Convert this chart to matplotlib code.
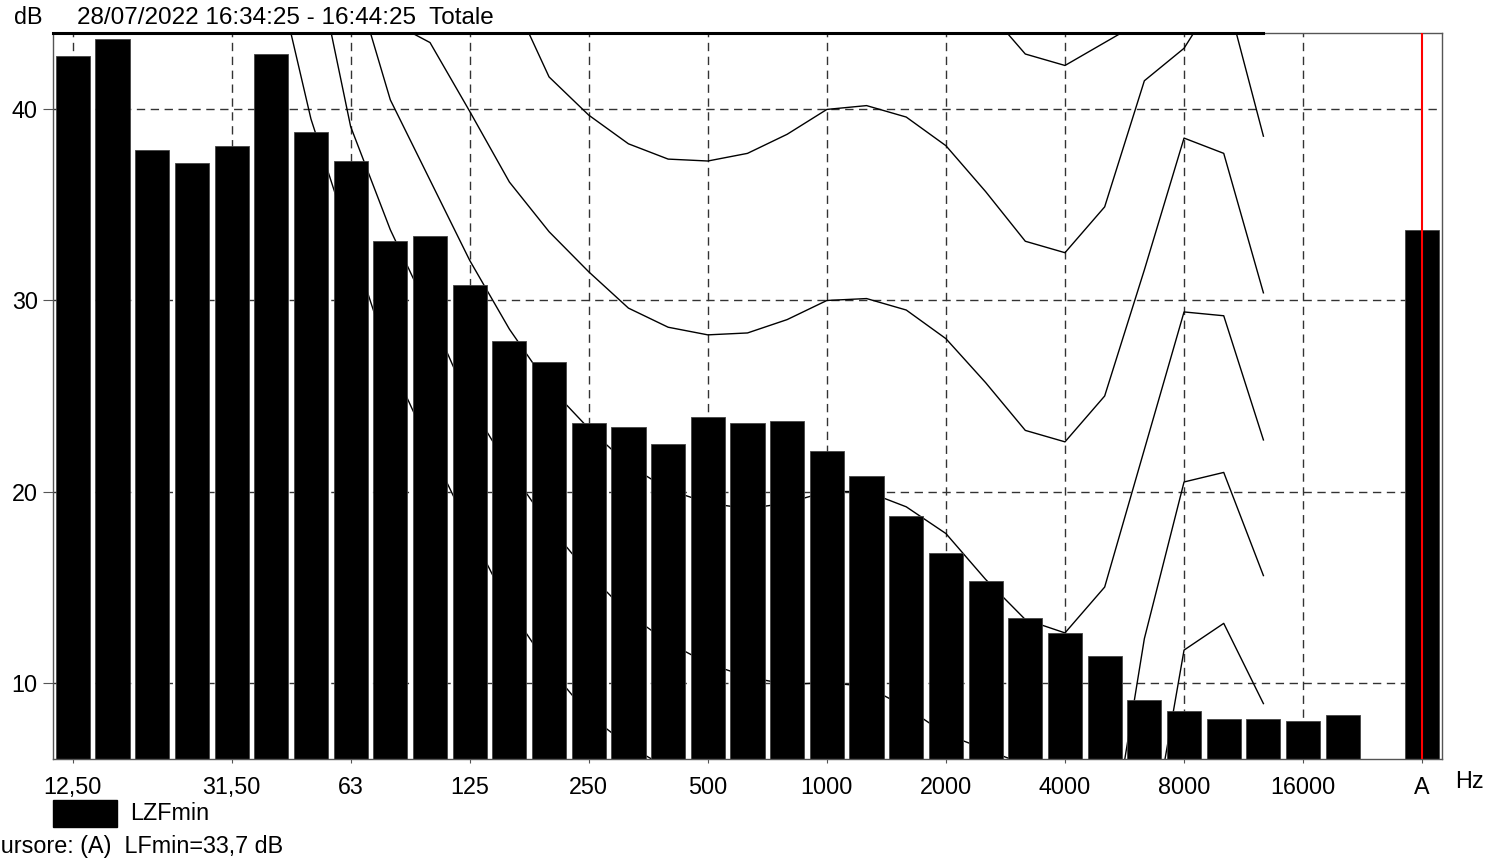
import numpy as np
import matplotlib
matplotlib.use("Agg")
import matplotlib.pyplot as plt
from matplotlib.patches import Rectangle

# ------------------------ DATA ------------------------

# 1/3 octave band centres (Hz) and their axis labels
FREQS = [12.5, 16, 20, 25, 31.5, 40, 50, 63, 80, 100, 125, 160, 200, 250, 315,
         400, 500, 630, 800, 1000, 1250, 1600, 2000, 2500, 3150, 4000, 5000,
         6300, 8000, 10000, 12500, 16000, 20000]

# LZFmin spectrum (dB)
LZF_MIN = [42.8, 43.7, 37.9, 37.2, 38.1, 42.9, 38.8, 37.3, 33.1, 33.4, 30.8,
           27.9, 26.8, 23.6, 23.4, 22.5, 23.9, 23.6, 23.7, 22.1, 20.8, 18.7,
           16.8, 15.3, 13.4, 12.6, 11.4, 9.1, 8.5, 8.1, 8.1, 8.0, 8.3]

# overall A-weighted value (cursor)
LF_MIN_A = 33.7

# equal-loudness curves, 20 Hz .. 12500 Hz
CURVE_FREQS = FREQS[2:31]
PHON_0 = [64, 59, 54, 48.4, 39.5, 33.1, 26.8, 22.3, 18.0, 13.9, 10.8, 8.3, 6.7,
          5.5, 4.4, 3.3, 2.0, 0.0, -0.4, -1.3, -3.0, -5.2, -7.5, -8.0, -10.5,
          -0.2, 11.7, 13.1, 8.9]
PHON_10 = [67, 62, 57, 53, 49.1, 39.1, 33.7, 29.3, 24.6, 21.2, 18.2, 15.7, 13.6,
           12.1, 11.0, 10.3, 9.9, 10.0, 9.8, 8.7, 7.3, 6.5, 5.7, 4.0, -0.5,
           12.3, 20.5, 21.0, 15.6]
PHON_20 = [70, 64, 59, 55, 51.5, 47.5, 40.5, 36.3, 32.1, 28.5, 25.5, 23.3, 21.4,
           20.1, 19.4, 19.1, 19.4, 20.0, 20.0, 19.2, 17.8, 15.4, 13.3, 12.6,
           15.0, 22.2, 29.4, 29.2, 22.7]
PHON_30 = [74, 68, 62, 57, 52, 48, 44.6, 43.5, 39.9, 36.2, 33.6, 31.5, 29.6,
           28.6, 28.2, 28.3, 29.0, 30.0, 30.1, 29.5, 28.0, 25.7, 23.2, 22.6,
           25.0, 31.6, 38.5, 37.7, 30.4]
PHON_40 = [83, 77, 71, 66, 61, 57, 54, 51.5, 49.0, 46.2, 41.7, 39.7, 38.2, 37.4,
           37.3, 37.7, 38.7, 40.0, 40.2, 39.6, 38.1, 35.7, 33.1, 32.5, 34.9,
           41.5, 43.2, 46.5, 38.6]
PHON_50 = [88, 84, 80, 76, 72, 68, 65, 62, 59, 56.5, 52, 50, 48.5, 47.5, 47.3,
           47.7, 48.7, 50.0, 50.2, 49.6, 48.0, 45.3, 42.9, 42.3, 43.5, 44.7,
           52, 54, 47]

TICK_FREQS = [12.5, 31.5, 63, 125, 250, 500, 1000, 2000, 4000, 8000, 16000]
TICK_LABELS = ["12,50", "31,50", "63", "125", "250", "500", "1000", "2000",
               "4000", "8000", "16000"]
Y_TICKS = [10, 20, 30, 40]
Y_MIN, Y_MAX = 6, 44

TITLE = "28/07/2022 16:34:25 - 16:44:25  Totale"
LEGEND_LABEL = "LZFmin"
CURSOR_TEXT = "Cursore: (A)  LFmin=33,7 dB"

# ------------------------ FIGURE ------------------------

W, H = 1485, 863
FONT = "Liberation Sans"
FS = 16.8
plt.rcParams["font.family"] = [FONT, "DejaVu Sans"]


def fx(px):
    return px / W


def fy(py):
    return 1 - py / H


fig = plt.figure(figsize=(W / 100, H / 100), dpi=100)
ax = fig.add_axes([fx(53), fy(759), fx(1442) - fx(53), fy(33) - fy(759)])

x = np.arange(len(FREQS))
a_pos = len(FREQS) + 1
ax.set_xlim(-0.5, a_pos + 0.5)
ax.set_ylim(Y_MIN, Y_MAX)

dash = (0, (6, 4))
tick_pos = [FREQS.index(f) for f in TICK_FREQS]
for p in tick_pos:
    ax.axvline(p, color="#333333", lw=1, ls=dash, zorder=0.5)
for yv in Y_TICKS:
    ax.axhline(yv, color="#333333", lw=1, ls=dash, zorder=0.5)

# equal-loudness curves (behind the bars)
xc = [FREQS.index(f) for f in CURVE_FREQS]
for curve in [PHON_0, PHON_10, PHON_20, PHON_30, PHON_40, PHON_50]:
    ax.plot(xc, curve, color="black", lw=1.0, zorder=1)

ax.bar(x, LZF_MIN, width=0.86, color="black", edgecolor="#444444", lw=0.6, zorder=2)
ax.bar([a_pos], [LF_MIN_A], width=0.86, color="black", edgecolor="#444444", lw=0.6, zorder=2)
ax.axvline(a_pos, color="red", lw=1.5, zorder=3)

# curves running off the top are drawn along the upper border
ax.plot([-0.5, xc[-1]], [Y_MAX, Y_MAX], color="black", lw=2.2, clip_on=False, zorder=4)

ax.set_xticks(tick_pos + [a_pos])
ax.set_xticklabels(TICK_LABELS + ["A"], fontsize=FS)
ax.set_yticks(Y_TICKS)
ax.set_yticklabels([str(v) for v in Y_TICKS], fontsize=FS)
ax.tick_params(axis="x", length=3, pad=9, color="#555555")
ax.tick_params(axis="y", length=7, pad=4, color="#555555")

for side in ["left", "right", "bottom", "top"]:
    ax.spines[side].set_color("#555555")
    ax.spines[side].set_linewidth(1)

# texts around the plot
fig.text(fx(14), fy(18), "dB", fontsize=FS, va="center", ha="left")
fig.text(fx(77), fy(18), TITLE, fontsize=17.5, va="center", ha="left")
fig.text(fx(1455), fy(781), "Hz", fontsize=FS, va="center", ha="left")

fig.patches.append(Rectangle((fx(53), fy(827)), fx(117) - fx(53), fy(800) - fy(827),
                             transform=fig.transFigure, color="black"))
fig.text(fx(130), fy(813), LEGEND_LABEL, fontsize=FS, va="center", ha="left")
# the reference image cuts the first letter at the left edge
fig.text(fx(-16), fy(846), CURSOR_TEXT, fontsize=FS, va="center", ha="left")

fig.savefig("out.png", dpi=100)
